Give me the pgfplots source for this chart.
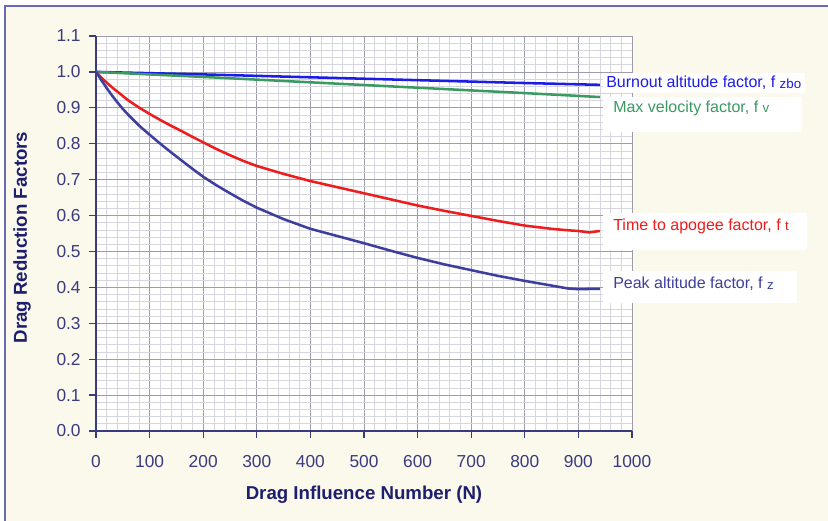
\documentclass[border=0pt]{standalone}
\usepackage{pgfplots}
\pgfplotsset{compat=1.18}
\usepackage{fontspec}
\setmainfont{Liberation Sans}

\definecolor{frameblue}{HTML}{6A6AAE}
\definecolor{cream}{HTML}{FAF9EC}
\definecolor{axisnavy}{HTML}{3A3A7E}
\definecolor{titlenavy}{HTML}{1E1E6E}
\definecolor{gridmajor}{HTML}{9C9CAC}
\definecolor{gridminor}{HTML}{D6D6DE}
\definecolor{cfzbo}{HTML}{1C1CE8}
\definecolor{cfv}{HTML}{3A9A62}
\definecolor{cft}{HTML}{EE1C1C}
\definecolor{cfz}{HTML}{3E3E9E}

\newcommand{\sub}[1]{\raisebox{-0.6pt}{\fontsize{10}{11}\selectfont #1}}

\begin{document}
\begin{tikzpicture}
% page background and frame (1 unit = 0.75pt)
\begin{scope}[shift={(-72pt,323.25pt)}, x=0.75pt, y=-0.75pt]
  \path[use as bounding box, fill=white] (0,0) rectangle (828,521);
  \fill[cream] (5,6) rectangle (828,521);
  \draw[frameblue, line width=1.6pt] (5,521) -- (5,6) -- (828,6);
\end{scope}

\begin{axis}[
  at={(0,0)}, anchor=south west,
  scale only axis, width=402pt, height=296.25pt,
  xmin=0, xmax=1000, ymin=0, ymax=1.1,
  xtick distance=100, ytick distance=0.1,
  minor x tick num=4, minor y tick num=4,
  grid=both,
  major grid style={gridmajor, line width=0.6pt},
  minor grid style={gridminor, line width=0.5pt},
  axis background/.style={fill=white},
  axis x line*=bottom, axis y line*=left,
  axis line style={axisnavy, line width=1.5pt, -},
  tick align=outside,
  major tick length=5pt, minor tick length=0pt,
  major tick style={axisnavy, line width=1pt},
  /pgf/number format/assume math mode=true,
  yticklabel style={/pgf/number format/fixed, /pgf/number format/precision=1,
    /pgf/number format/fixed zerofill, font=\fontsize{13}{15}\selectfont,
    text=axisnavy, xshift=-3pt},
  xticklabel style={/pgf/number format/fixed, /pgf/number format/1000 sep={},
    font=\fontsize{13}{15}\selectfont, text=axisnavy, yshift=-10pt},
  scaled ticks=false,
  xlabel={Drag Influence Number (N)},
  ylabel={Drag Reduction Factors},
  label style={font=\fontsize{14}{16}\selectfont\bfseries, text=titlenavy},
  xlabel style={at={(axis description cs:0.5,-0.162)}, anchor=center},
  ylabel style={at={(axis description cs:-0.138,0.49)}, anchor=center},
  clip=false,
  every axis plot/.append style={line width=1.9pt, line join=round},
]

% Burnout altitude factor
\addplot[cfzbo] coordinates {(0,1.0) (200,0.993) (400,0.985) (600,0.977) (800,0.969) (940,0.964)};

% Max velocity factor
\addplot[cfv] coordinates {(0,1.0) (200,0.986) (400,0.971) (600,0.956) (800,0.941) (940,0.930)};

% Time to apogee factor
\addplot[cft] coordinates {
  (0,1.0) (10,0.984) (20,0.97) (30,0.957) (40,0.945) (50,0.933) (60,0.921)
  (70,0.911) (80,0.901) (90,0.892) (100,0.883)
  (120,0.866) (140,0.850) (160,0.835) (180,0.819) (200,0.804)
  (225,0.785) (250,0.768) (275,0.752) (300,0.738) (350,0.716) (400,0.696) (450,0.679)
  (500,0.662) (550,0.645) (600,0.628) (650,0.613) (700,0.599)
  (750,0.585) (800,0.572) (850,0.563) (880,0.559) (900,0.557)
  (920,0.553) (940,0.557)};

% Peak altitude factor
\addplot[cfz] coordinates {
  (0,1.0) (10,0.977) (20,0.955) (30,0.934) (40,0.915) (50,0.897) (60,0.881)
  (70,0.866) (80,0.851) (90,0.838) (100,0.825)
  (120,0.800) (140,0.776) (160,0.753) (180,0.730) (200,0.708)
  (225,0.684) (250,0.662) (275,0.641) (300,0.622) (350,0.590) (400,0.563) (450,0.543)
  (500,0.523) (550,0.502) (600,0.482) (650,0.464) (700,0.448)
  (750,0.432) (800,0.418) (850,0.405) (880,0.397) (900,0.395)
  (940,0.396)};
\end{axis}

% series labels
\begin{scope}[shift={(-72pt,323.25pt)}, x=0.75pt, y=-0.75pt]
  \fill[white] (603,73) rectangle (805,93);
  \fill[white] (603,97) rectangle (802,132);
  \fill[white] (603,213) rectangle (807,250);
  \fill[white] (603,271) rectangle (797,303);
  \node[anchor=west, inner sep=0pt, text=cfzbo, font=\fontsize{12}{14}\selectfont] at (606,83) {Burnout altitude factor, f \sub{zbo}};
  \node[anchor=west, inner sep=0pt, text=cfv, font=\fontsize{12}{14}\selectfont] at (613,108) {Max velocity factor, f \sub{v}};
  \node[anchor=west, inner sep=0pt, text=cft, font=\fontsize{12}{14}\selectfont] at (613,226) {Time to apogee factor, f \sub{t}};
  \node[anchor=west, inner sep=0pt, text=cfz, font=\fontsize{12}{14}\selectfont] at (613,284) {Peak altitude factor, f \sub{z}};
\end{scope}
\end{tikzpicture}
\end{document}
